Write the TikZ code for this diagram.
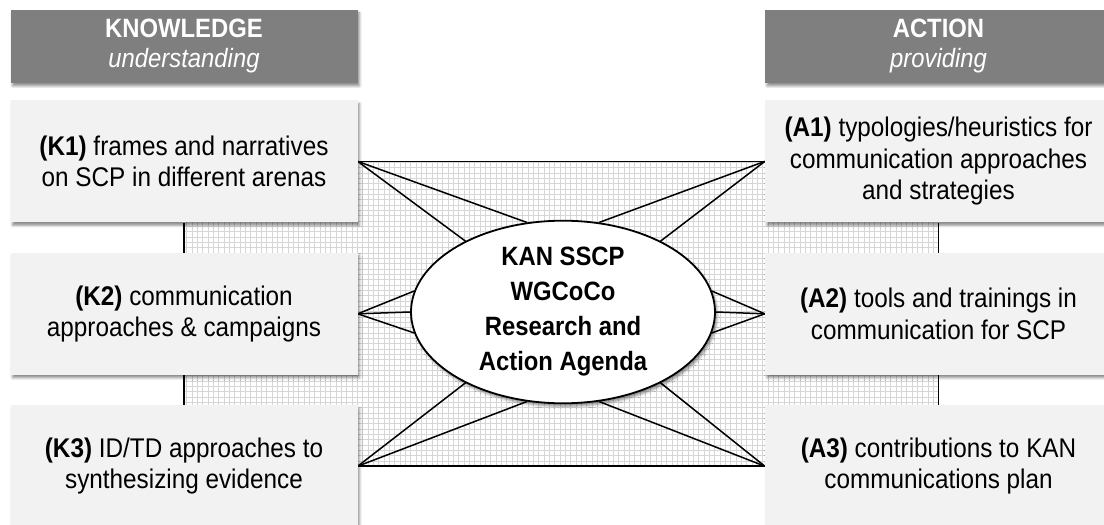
\documentclass[tikz,border=0pt]{standalone}
\usepackage{fontspec}
\setmainfont{Liberation Sans}[FakeStretch=0.9]
\usepackage{tikz}
\usetikzlibrary{backgrounds}
\usetikzlibrary{calc,shadows.blur,positioning}
\usetikzlibrary{shapes.geometric}
\definecolor{hdrgray}{HTML}{7F7F7F}
\definecolor{boxgray}{HTML}{F2F2F2}
\definecolor{gridgray}{HTML}{D6D6D6}

\begin{document}
\begin{tikzpicture}[x=1pt, y=1pt,
        softshadow/.style={blur shadow={shadow xshift=2pt, shadow yshift=-3pt, shadow blur radius=2.5pt, shadow opacity=45}},
        heading/.style={rectangle, fill=hdrgray, text=white, minimum width=347pt, minimum height=73pt,
        inner sep=0pt, align=center, font=\fontsize{26.5}{30}\selectfont, softshadow},
        topic/.style={rectangle, fill=boxgray, text=black, minimum width=347pt, minimum height=122pt,
        inner sep=0pt, align=center, font=\fontsize{27}{31.5}\selectfont, softshadow},
        hub/.style={ellipse, draw=black, line width=1.8pt, fill=white, minimum width=304pt, minimum height=179pt,
        inner sep=0pt, align=center, font=\bfseries\fontsize{26.5}{35}\selectfont, softshadow},
        link/.style={draw=black, line width=1.5pt}]
        \useasboundingbox (0,0) rectangle (1104,525);

        \node (knowledge) [heading] at (184,478.5) {\textbf{KNOWLEDGE}\\\textit{understanding}};
        \node (K1) [topic, below=17pt of knowledge] {\textbf{(K1)} frames and narratives\\on SCP in different arenas};
        \node (K2) [topic, below=30pt of K1] {\textbf{(K2)} communication\\approaches \& campaigns};
        \node (K3) [topic, below=30pt of K2] {\textbf{(K3)} ID/TD approaches to\\synthesizing evidence};

        \node (action) [heading] at (938.5,478.5) {\textbf{ACTION}\\\textit{providing}};
        \node (A1) [topic, below=17pt of action] {\textbf{(A1)} typologies/heuristics for\\communication approaches\\and strategies};
        \node (A2) [topic, below=30pt of A1] {\textbf{(A2)} tools and trainings in\\communication for SCP};
        \node (A3) [topic, below=30pt of A2] {\textbf{(A3)} contributions to KAN\\communications plan};

        \node (agenda) [hub] at (563,213) {KAN SSCP\\WGCoCo\\Research and\\Action Agenda};

        \begin{scope}[on background layer]
            \draw[gridgray, line width=0.5pt, step=16pt/3] (K1.center) grid (A3.center);
            \draw[link] (K1) -- (K2);
            \draw[link] (K2) -- (K3);
            \draw[link] (A1) -- (A2);
            \draw[link] (A2) -- (A3);
            \draw[link] (K1.east) -- (A1.west);
            \draw[link] (K3.east) -- (A3.west);
            \draw[link] (K1.east) -- (agenda.112);
            \draw[link] (K1.east) -- (agenda.144);
            \draw[link] (A1.west) -- (agenda.68);
            \draw[link] (A1.west) -- (agenda.36);
            \draw[link] (K2.east) -- (agenda.172);
            \draw[link] (K2.east) -- (agenda.180);
            \draw[link] (K2.east) -- (agenda.188);
            \draw[link] (A2.west) -- (agenda.8);
            \draw[link] (A2.west) -- (agenda.0);
            \draw[link] (A2.west) -- (agenda.352);
            \draw[link] (K3.east) -- (agenda.216);
            \draw[link] (K3.east) -- (agenda.248);
            \draw[link] (A3.west) -- (agenda.292);
            \draw[link] (A3.west) -- (agenda.324);
        \end{scope}
    \end{tikzpicture}
\end{document}
